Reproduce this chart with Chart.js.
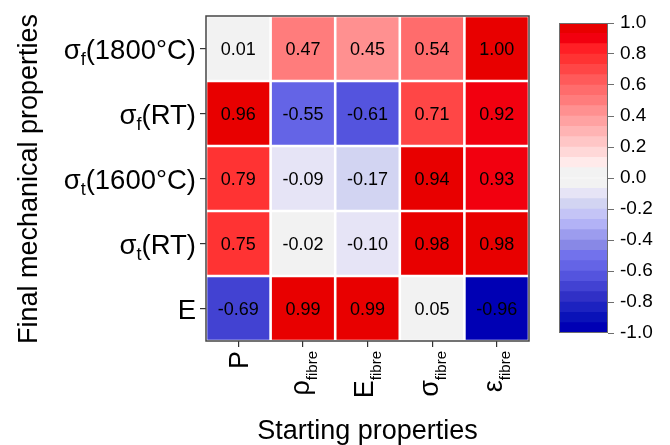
<!DOCTYPE html>
<html>
<head>
<meta charset="utf-8">
<script src="https://cdn.jsdelivr.net/npm/chart.js@4.4.1/dist/chart.umd.min.js"></script>
<style>
  html, body { margin: 0; padding: 0; background: #fff; }
  #wrap { position: relative; width: 670px; height: 445px; }
  #heat { position: absolute; left: 0; top: 0; }
  #bar { position: absolute; left: 540px; top: 0; }
</style>
</head>
<body>
<div id="wrap">
  <canvas id="heat" width="670" height="445"></canvas>
  <canvas id="bar" width="130" height="445"></canvas>
</div>
<script>
// ---- data ---------------------------------------------------------------
// "_{...}" marks a subscript in a label
const rowLabels = ['σ_{f}(1800°C)', 'σ_{f}(RT)', 'σ_{t}(1600°C)', 'σ_{t}(RT)', 'E'];
const colLabels = ['P', 'ρ_{fibre}', 'E_{fibre}', 'σ_{fibre}', 'ε_{fibre}'];

// correlation coefficients, one array per final property (row)
const sigmaF1800 = [0.01, 0.47, 0.45, 0.54, 1.00];
const sigmaFRT   = [0.96, -0.55, -0.61, 0.71, 0.92];
const sigmaT1600 = [0.79, -0.09, -0.17, 0.94, 0.93];
const sigmaTRT   = [0.75, -0.02, -0.10, 0.98, 0.98];
const modulusE   = [-0.69, 0.99, 0.99, 0.05, -0.96];

const colorbarTicks = [-1.0, -0.8, -0.6, -0.4, -0.2, 0.0, 0.2, 0.4, 0.6, 0.8, 1.0];

const xTitle = 'Starting properties';
const yTitle = 'Final mechanical properties';

const rowValues = [sigmaF1800, sigmaFRT, sigmaT1600, sigmaTRT, modulusE];

// ---- style --------------------------------------------------------------
const FONT = "'Liberation Sans', Arial, Helvetica, sans-serif";
Chart.defaults.font.family = FONT;

// 30 discrete colour levels, from -1 (blue) up to +1 (red)
const levelColors = [
  '#0000b4', '#0a12b8', '#1c22c0', '#3030c6', '#4242d2', '#5454de', '#6464e6',
  '#7272ec', '#8888e6', '#9c9cee', '#b2b2f6', '#c4c4f6', '#d2d4f2', '#e6e4f6',
  '#f2f2f2', '#f2f2f2',
  '#ffeaea', '#ffd8d8', '#ffc6c6', '#ffb4b4', '#ffa2a2', '#ff9090', '#ff7c7c',
  '#ff6c6c', '#ff5a5a', '#ff4646', '#ff3333', '#ff1f25', '#f2000f', '#e80000'
];
const nLevels = levelColors.length;
function levelOf(v) {
  return Math.max(0, Math.min(nLevels - 1, Math.floor((v + 1) / 2 * nLevels + 1e-9)));
}
function colorFor(v) { return levelColors[levelOf(v)]; }

// ---- rich text (subscripts) --------------------------------------------
function parseRich(s) {
  const parts = [];
  const re = /_\{([^}]*)\}/g;
  let last = 0, m;
  while ((m = re.exec(s))) {
    if (m.index > last) parts.push({ t: s.slice(last, m.index), sub: false });
    parts.push({ t: m[1], sub: true });
    last = re.lastIndex;
  }
  if (last < s.length) parts.push({ t: s.slice(last), sub: false });
  return parts;
}
function drawRich(ctx, s, x, y, align, size, subSize, subDy) {
  const parts = parseRich(s);
  let total = 0;
  parts.forEach(p => {
    ctx.font = (p.sub ? subSize : size) + 'px ' + FONT;
    p.w = ctx.measureText(p.t).width;
    total += p.w;
  });
  let cx = align === 'right' ? x - total : align === 'center' ? x - total / 2 : x;
  ctx.textAlign = 'left';
  ctx.textBaseline = 'alphabetic';
  parts.forEach(p => {
    ctx.font = (p.sub ? subSize : size) + 'px ' + FONT;
    ctx.fillText(p.t, cx, p.sub ? y + subDy : y);
    cx += p.w;
  });
}
const hasSub = s => /_\{/.test(s);

// ---- heatmap ------------------------------------------------------------
const heatDecor = {
  id: 'heatDecor',
  afterDatasetsDraw(chart) {
    const { ctx, chartArea: a, scales } = chart;
    ctx.save();
    ctx.fillStyle = '#000';

    // value in every cell
    ctx.font = '18px ' + FONT;
    ctx.textAlign = 'center';
    ctx.textBaseline = 'alphabetic';
    chart.data.datasets.forEach((ds, i) => {
      chart.getDatasetMeta(i).data.forEach((el, j) => {
        const cy = (el.y + el.base) / 2;
        ctx.fillText(ds.values[j].toFixed(2), el.x, cy + 6.5);
      });
    });

    // frame
    ctx.strokeStyle = '#454545';
    ctx.lineWidth = 1.5;
    ctx.strokeRect(a.left, a.top, a.right - a.left, a.bottom - a.top);

    // row labels
    rowLabels.forEach((lab, i) => {
      const y = scales.y.getPixelForValue(i + 0.5);
      drawRich(ctx, lab, a.left - 10, y + 10, 'right', 27.5, 18, 6);
    });

    // column labels, rotated
    const size = 27, sub = 15, subDy = 8, cap = size * 0.716;
    colLabels.forEach((lab, j) => {
      const x = scales.x.getPixelForTick(j);
      const off = hasSub(lab) ? (cap - subDy) / 2 : cap / 2;
      ctx.save();
      ctx.translate(x + off, a.bottom + 10);
      ctx.rotate(-Math.PI / 2);
      drawRich(ctx, lab, 0, 0, 'right', size, sub, subDy);
      ctx.restore();
    });

    // axis titles
    ctx.font = '27px ' + FONT;
    ctx.textAlign = 'center';
    ctx.textBaseline = 'alphabetic';
    ctx.fillText(xTitle, (a.left + a.right) / 2, 439);
    ctx.save();
    ctx.translate(37, (a.top + a.bottom) / 2 + 0.5);
    ctx.rotate(-Math.PI / 2);
    ctx.fillText(yTitle, 0, 0);
    ctx.restore();

    ctx.restore();
  }
};

new Chart(document.getElementById('heat'), {
  type: 'bar',
  data: {
    labels: colLabels,
    datasets: rowValues.map((vals, i) => ({
      data: vals.map(() => [i, i + 1]),
      values: vals,
      backgroundColor: vals.map(colorFor),
      borderColor: '#ffffff',
      borderWidth: 1.3,
      borderSkipped: false,
      inflateAmount: 0,
      grouped: false,
      barPercentage: 1,
      categoryPercentage: 1
    }))
  },
  options: {
    responsive: false,
    animation: false,
    layout: { padding: { left: 0, right: 141, top: 16, bottom: 0 } },
    plugins: { legend: { display: false }, tooltip: { enabled: false } },
    scales: {
      x: {
        type: 'category',
        offset: true,
        ticks: { display: false },
        border: { display: false },
        grid: { offset: false, drawOnChartArea: false, drawTicks: true, tickLength: 6, color: '#333', lineWidth: 1.2 },
        afterFit: s => { s.height = 104; }
      },
      y: {
        type: 'linear',
        min: 0,
        max: rowLabels.length,
        reverse: true,
        ticks: { display: false },
        border: { display: false },
        grid: { drawOnChartArea: false, drawTicks: true, tickLength: 6, color: '#333', lineWidth: 1.2 },
        afterBuildTicks: s => { s.ticks = rowLabels.map((_, i) => ({ value: i + 0.5 })); },
        afterFit: s => { s.width = 206; }
      }
    }
  },
  plugins: [heatDecor]
});

// ---- colour scale -------------------------------------------------------
const barFrame = {
  id: 'barFrame',
  afterDatasetsDraw(chart) {
    const { ctx, chartArea: a } = chart;
    ctx.save();
    ctx.strokeStyle = '#6e6e6e';
    ctx.lineWidth = 1;
    ctx.strokeRect(a.left + 0.5, a.top + 0.5, a.right - a.left - 1, a.bottom - a.top - 1);
    ctx.restore();
  }
};

new Chart(document.getElementById('bar'), {
  type: 'bar',
  data: {
    labels: [''],
    datasets: levelColors.map((c, k) => ({
      data: [[-1 + 2 * k / nLevels, -1 + 2 * (k + 1) / nLevels]],
      backgroundColor: c,
      borderWidth: 0,
      grouped: false,
      barPercentage: 1,
      categoryPercentage: 1
    }))
  },
  options: {
    responsive: false,
    animation: false,
    layout: { padding: { left: 19, right: 0, top: 23, bottom: 112 } },
    plugins: { legend: { display: false }, tooltip: { enabled: false } },
    scales: {
      x: { display: false },
      y: {
        position: 'right',
        min: -1,
        max: 1,
        border: { display: false },
        grid: { drawOnChartArea: false, drawTicks: true, tickLength: 6, color: '#6e6e6e' },
        ticks: {
          color: '#000',
          padding: 6,
          font: { size: 19, family: FONT },
          callback: v => (Math.abs(v) < 1e-9 ? 0 : v).toFixed(1)
        },
        afterBuildTicks: s => { s.ticks = colorbarTicks.map(v => ({ value: v })); },
        afterFit: s => { s.width = 62; }
      }
    }
  },
  plugins: [barFrame]
});
</script>
</body>
</html>
